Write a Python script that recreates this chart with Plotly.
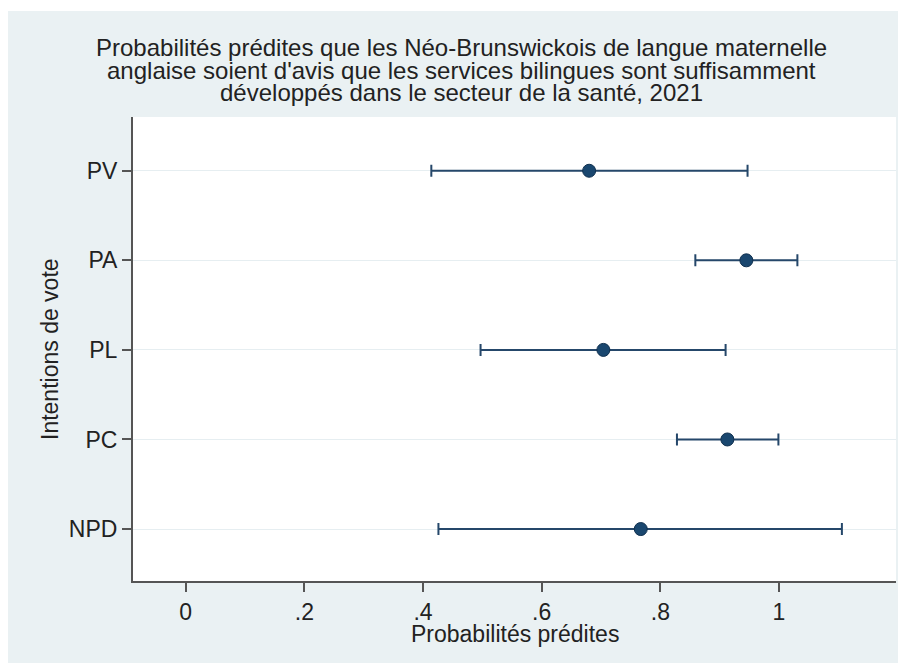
import plotly.graph_objects as go

# Data
parties = ["PV", "PA", "PL", "PC", "NPD"]
estimates = [0.680, 0.945, 0.704, 0.913, 0.767]
ci_low = [0.414, 0.859, 0.497, 0.828, 0.426]
ci_high = [0.947, 1.031, 0.910, 0.999, 1.106]
x_ticks = [0, 0.2, 0.4, 0.6, 0.8, 1]
x_ticklabels = ["0", ".2", ".4", ".6", ".8", "1"]
title_lines = [
    "Probabilités prédites que les Néo-Brunswickois de langue maternelle",
    "anglaise soient d'avis que les services bilingues sont suffisamment",
    "développés dans le secteur de la santé, 2021",
]

BG = "#eaf1f3"
NAVY = "#1a476f"
FONT = "Liberation Sans, Arial, sans-serif"
TXT = "#222222"

err_plus = [h - e for h, e in zip(ci_high, estimates)]
err_minus = [e - l for e, l in zip(estimates, ci_low)]

fig = go.Figure()
fig.add_trace(go.Scatter(
    x=estimates, y=parties, mode="markers",
    marker=dict(size=13, color=NAVY, line=dict(color="#10304f", width=1)),
    error_x=dict(type="data", array=err_plus, arrayminus=err_minus,
                 color="#25476a", thickness=2, width=6, symmetric=False),
    showlegend=False, hoverinfo="x+y",
))

# figure sits at an 8px page offset (body margin)
W, H = 898, 655
L, R, T, B = 125, 10, 109, 82
pw, ph = W - L - R, H - T - B

def px_x(p):
    return (p - L) / pw

def px_y(p):
    return (H - B - p) / ph

fig.update_layout(
    width=W, height=H,
    margin=dict(l=L, r=R, t=T, b=B, pad=0),
    paper_bgcolor=BG, plot_bgcolor="white",
    font=dict(family=FONT, size=23, color=TXT),
    xaxis=dict(range=[-0.0888, 1.1972], tickvals=x_ticks, ticktext=x_ticklabels,
               showgrid=False, zeroline=False, showline=True, linecolor="#555555",
               linewidth=2, ticks="outside", ticklen=9, tickwidth=2, tickcolor="#555555",
               tickfont=dict(size=23, color=TXT), fixedrange=True),
    yaxis=dict(type="category", categoryorder="array", categoryarray=parties[::-1],
               range=[-0.58, 4.6], showgrid=True, gridcolor="#e6eef1", gridwidth=1,
               zeroline=False, showline=True, linecolor="#555555", linewidth=2,
               ticks="outside", ticklen=9, tickwidth=2, tickcolor="#555555",
               tickfont=dict(size=23, color=TXT), fixedrange=True),
    shapes=[
        dict(type="rect", xref="paper", yref="paper", x0=px_x(0), x1=px_x(W),
             y0=px_y(3), y1=px_y(0), fillcolor="white", line=dict(width=0), layer="below"),
    ],
)

title_y = [39.5, 62, 84.5]
for line, yc in zip(title_lines, title_y):
    fig.add_annotation(text=line, xref="paper", yref="paper", x=px_x(453), y=px_y(yc),
                       xanchor="center", yanchor="middle", showarrow=False,
                       font=dict(size=24, color=TXT, family=FONT))

fig.add_annotation(text="Probabilités prédites", xref="paper", yref="paper",
                   x=0.5, y=px_y(626), xanchor="center", yanchor="middle",
                   showarrow=False, font=dict(size=23, color=TXT, family=FONT))
fig.add_annotation(text="Intentions de vote", xref="paper", yref="paper",
                   x=px_x(42), y=0.5, xanchor="center", yanchor="middle", textangle=-90,
                   showarrow=False, font=dict(size=23, color=TXT, family=FONT))

fig.write_html("out.html")
